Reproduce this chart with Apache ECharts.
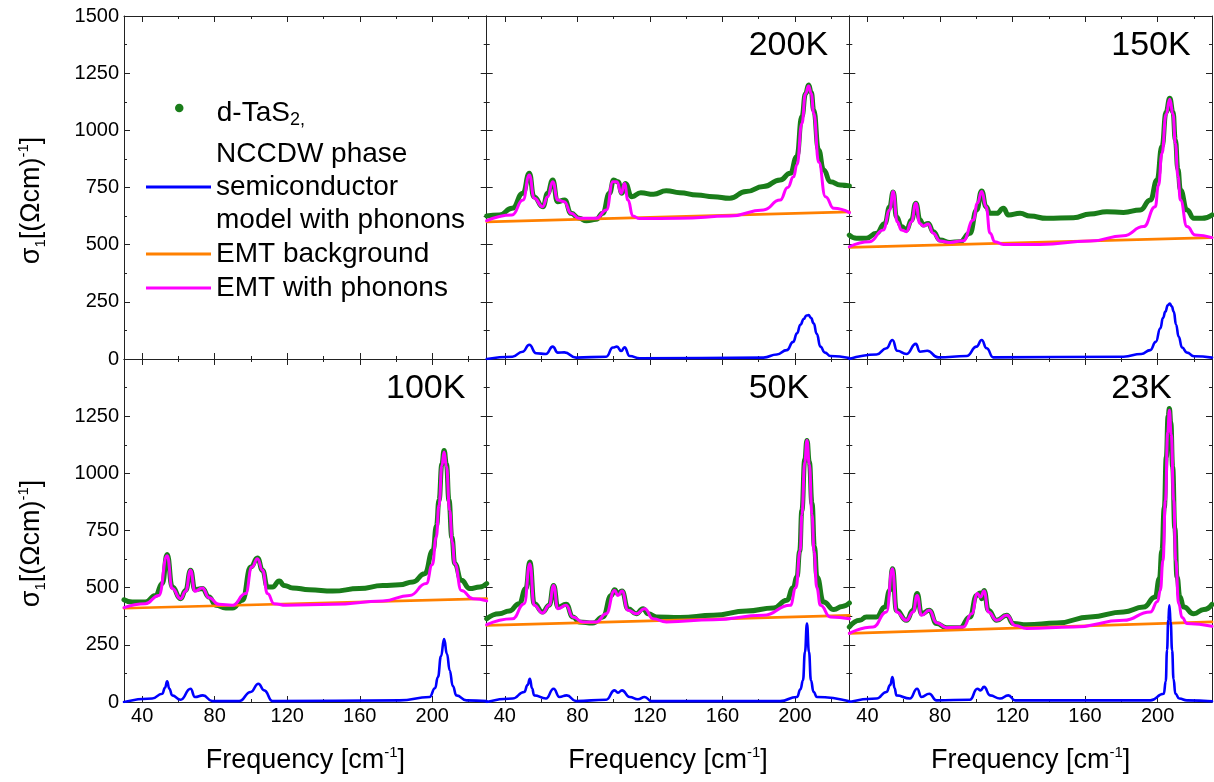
<!DOCTYPE html>
<html><head><meta charset="utf-8">
<script src="https://cdn.jsdelivr.net/npm/echarts@6/dist/echarts.min.js"></script>
<style>html,body{margin:0;padding:0;background:#fff}#c{width:1214px;height:782px}</style>
</head><body><div id="c"></div>
<script>
// ---------- tick values / labels ----------
const xMajorTicks = [40, 80, 120, 160, 200];
const xMinorTicks = [60, 100, 140, 180, 220];
const yMajorTicks = [0, 250, 500, 750, 1000, 1250, 1500];
const yMinorTicks = [125, 375, 625, 875, 1125, 1375];
const yLabelsTop = [0, 250, 500, 750, 1000, 1250, 1500];
const yLabelsBottom = [0, 250, 500, 750, 1000, 1250];
const panelTemps = ['', '200K', '150K', '100K', '50K', '23K'];

// ---------- 200K ----------
const data200K = [[30,625],[37,630],[44,659],[50,725],[53.5,812],[56,710],[61,666],[63.6,725],[66.4,783],[69,688],[73,695],[76.5,637],[81,615],[85,605],[90.4,611],[94,637],[97.7,725],[100,783],[102.4,775],[104.6,725],[106.4,768],[110,710],[115,727],[122,720],[129,736],[136.5,727],[146,717],[155,710],[164,703],[173,732],[182.6,754],[191.8,783],[197.4,812],[201,885],[203.8,1060],[205.8,1160],[207.5,1198],[209,1165],[210.3,1089],[213,914],[215.8,827],[219.5,775],[225,761],[230,757]];
const emtPh200K = [[30,605],[44,630],[50,695],[53.5,805],[56.2,703],[60.8,666],[63.6,710],[66.4,775],[69.2,695],[72.8,688],[76.5,637],[81,615],[90.4,615],[96,652],[99.6,775],[101.8,775],[104.2,725],[106,768],[107.9,695],[110.6,625],[114.3,614],[136.5,615],[164,625],[182.6,652],[191.8,695],[196,750],[199.2,797],[201.1,850],[203.8,1030],[205.8,1160],[207.5,1194],[209,1160],[210.3,1075],[213.1,860],[216.8,710],[221.4,659],[230,640]];
const emtBg200K = [[30,600],[230,643]];
const semi200K = [[30,0],[44.2,10],[49.8,32],[53.5,62],[57.2,25],[62.7,22],[66.4,54],[69.2,28],[72.8,29],[79.3,6],[95.9,10],[99.6,50],[101.8,54],[104.2,35],[106,51],[108.8,13],[114.4,3],[182.6,6],[190,20],[195.5,39],[199,75],[201.1,112],[203,150],[204.8,175],[206.3,190],[207.5,192],[208.8,180],[210.3,156],[212,110],[214,54],[216.5,28],[219.5,13],[230,4]];

// ---------- 150K ----------
const data150K = [[30,542],[34,528],[39.4,528],[45,550],[49.6,593],[52.3,666],[54.2,730],[56,622],[58.8,579],[61.5,564],[64.3,608],[66.7,681],[69,608],[70.8,586],[73.5,593],[76.3,557],[80,520],[85.5,510],[91,513],[96.5,550],[100.2,652],[103,735],[105.4,666],[107.6,637],[111.3,637],[115,659],[117.7,630],[124.2,637],[129.7,625],[138.9,615],[153.6,618],[162.8,634],[172,644],[181.2,641],[190.5,652],[196,695],[199.7,783],[202.4,929],[204.7,1080],[206.7,1140],[208.5,1080],[209.8,958],[211.2,830],[212.6,739],[216.2,652],[220,615],[224.5,615],[230,630]];
const emtPh150K = [[30,491],[41.3,513],[48.7,564],[52.3,652],[54.2,732],[56.4,600],[58.8,564],[61.5,557],[64.3,600],[66.7,681],[68.9,593],[70.8,582],[73.5,590],[76.3,550],[80,516],[85.5,510],[92.9,517],[98.4,608],[100.6,681],[103,732],[105.4,666],[107.6,550],[110.3,513],[115,501],[135.2,501],[162.8,516],[181.2,539],[192.3,579],[198.7,666],[200.5,760],[202.4,899],[204.7,1070],[206.7,1136],[208.5,1070],[209.8,943],[211.2,800],[212.6,695],[216.2,579],[220.8,542],[230,531]];
const emtBg150K = [[30,488],[230,531]];
const semi150K = [[30,0],[45,20],[50.5,47],[53.8,83],[56.4,36],[61.5,22],[66.7,66],[68.9,32],[73,36],[79,7],[94.7,13],[100.2,54],[103,83],[105.7,47],[109.4,7],[181.2,10],[191,22],[196,39],[199,75],[201.5,134],[203,180],[204.3,207],[205.6,235],[206.7,243],[207.8,230],[208.9,207],[210.2,150],[211.6,98],[213.5,50],[216.2,28],[220,12],[230,6]];

// ---------- 100K ----------
const data100K = [[30,447],[34.5,437],[41.8,437],[47.4,466],[51.1,518],[53.8,645],[56.6,503],[61.2,452],[64,488],[66.7,576],[69.1,491],[73.2,496],[76.9,459],[80.6,423],[86.1,411],[89.8,411],[95.3,445],[99.9,590],[103.6,630],[106.4,576],[109.1,503],[111.9,503],[115.6,529],[118.3,510],[123,499],[132.2,491],[145.1,485],[159.8,496],[172.7,509],[181.9,513],[189.3,525],[195.8,561],[200.4,663],[202.3,770],[203.7,882],[205.3,1040],[206.5,1100],[207.8,1040],[209.2,882],[210.8,720],[212.4,605],[216,532],[220.6,496],[226.2,503],[230,518]];
const emtPh100K = [[30,413],[41.8,430],[49.2,466],[53.8,640],[56.6,496],[61.2,452],[64,484],[66.7,576],[69.1,484],[73.2,499],[76.9,456],[82.4,427],[89.8,423],[97.1,474],[100.5,590],[103.6,627],[106.4,576],[109.1,474],[112.8,430],[119.3,423],[145.1,427],[172.7,442],[187.5,466],[196.7,518],[200,600],[202.2,722],[203.7,860],[205.3,1035],[206.5,1093],[207.8,1030],[209.6,838],[211,700],[212.4,605],[216,488],[222.5,452],[230,442]];
const emtBg100K = [[30,410],[230,452]];
const semi100K = [[30,0],[45.5,15],[51.1,36],[52.6,62],[53.8,90],[55,58],[56.6,29],[61.2,10],[66.7,58],[69.1,22],[73.5,29],[78.7,4],[93.5,4],[99.9,44],[104.1,80],[107.3,51],[111.9,4],[181.9,7],[198.5,22],[201.5,60],[203.1,109],[204.8,200],[206.5,275],[208.1,210],[209.6,138],[211.3,70],[213.3,29],[218.8,7],[230,4]];

// ---------- 50K ----------
const data50K = [[30,364],[36.9,386],[42.4,398],[47.9,430],[51.6,496],[53.8,612],[56.2,430],[60.8,394],[64.5,423],[66.9,510],[69.2,415],[73.8,427],[77.5,372],[81.1,350],[88.5,345],[94.1,372],[98.7,466],[100.5,491],[102.4,474],[104.6,485],[107.9,408],[112.5,386],[116.2,408],[119,386],[123.6,372],[136.5,369],[155,379],[173.4,398],[188.2,411],[195.5,445],[199,500],[201.1,547],[202.6,660],[203.8,838],[205.4,1060],[206.6,1144],[207.9,1050],[209.4,867],[210.7,680],[212.1,547],[215.8,437],[221.4,404],[226,418],[230,433]];
const emtPh50K = [[30,338],[44.2,364],[50.7,430],[53.8,605],[56.2,423],[60.8,389],[64.5,423],[66.9,510],[69.2,408],[73.8,423],[77.5,372],[83,350],[90.4,350],[95.9,386],[100.5,488],[102.4,466],[104.6,485],[107.9,401],[112.5,386],[117.1,408],[121.7,364],[129.1,350],[155,360],[182.6,379],[197.4,423],[200.5,500],[202.9,663],[203.8,820],[205.4,1050],[206.6,1144],[207.9,1040],[209.4,820],[210.5,660],[212,500],[214,423],[219.5,372],[230,364]];
const emtBg50K = [[30,335],[230,379]];
const semi50K = [[30,0],[44.2,15],[50.7,44],[52.6,75],[53.8,102],[55,60],[56.2,29],[62.7,15],[66.9,58],[70.1,22],[74.1,29],[79.3,4],[95.9,10],[100.5,51],[102.4,41],[104.6,51],[108.8,22],[113.4,12],[117.1,22],[120.8,4],[191.8,4],[201.1,22],[203,55],[204.4,95],[205.5,220],[206.6,343],[207.7,220],[208.8,95],[210.2,45],[212.1,22],[230,3]];

// ---------- 23K ----------
const data23K = [[30,328],[35.8,357],[39.4,372],[45,372],[49.6,415],[52.3,488],[53.8,583],[56,401],[61.5,357],[65.2,401],[67.4,474],[69.8,386],[74.1,401],[78.1,343],[83.6,325],[91,325],[96.5,372],[100.2,466],[102.1,477],[103,452],[104.3,488],[106.7,401],[111.3,357],[116.8,379],[120.5,343],[127.8,338],[144.4,345],[162.8,372],[181.2,394],[192.3,415],[198.7,459],[201,540],[202.4,663],[203.7,850],[204.8,1071],[205.8,1250],[206.5,1283],[207.3,1220],[208.3,1028],[209.5,760],[210.7,547],[212.3,460],[214.4,415],[219.9,386],[225.5,404],[230,427]];
const emtPh23K = [[30,300],[43.1,328],[50.5,394],[53.8,583],[56,394],[61.5,357],[65.2,394],[67.4,466],[69.8,379],[74.1,401],[78.1,347],[83.6,325],[92.9,328],[97.5,386],[100.6,474],[102.4,459],[104.3,485],[106.7,394],[111.3,357],[116.8,379],[121.4,335],[127.8,321],[153.6,328],[181.2,357],[196,394],[200,440],[201.5,488],[203,620],[204.3,882],[205.6,1180],[206.5,1276],[207.5,1170],[208.9,882],[210,620],[211.6,430],[213.5,370],[216.2,343],[230,331]];
const emtBg23K = [[30,300],[230,350]];
const semi23K = [[30,0],[45,15],[50.5,44],[52.6,75],[53.8,109],[55,60],[56,29],[63.4,15],[67.4,58],[69.8,22],[74.1,36],[78.1,7],[96.5,10],[100.6,58],[102.4,51],[104.3,66],[107.6,29],[113.1,15],[117.7,29],[121.4,7],[196,7],[203.4,36],[204.5,90],[205.2,226],[205.9,360],[206.5,423],[207.2,350],[208,226],[208.8,100],[209.8,36],[212,15],[216.2,7],[230,3]];

const panelData = [
  null,
  [data200K, emtBg200K, emtPh200K, semi200K],
  [data150K, emtBg150K, emtPh150K, semi150K],
  [data100K, emtBg100K, emtPh100K, semi100K],
  [data50K, emtBg50K, emtPh50K, semi50K],
  [data23K, emtBg23K, emtPh23K, semi23K]
];

// ---------- layout ----------
const FONT = 'Liberation Sans, Arial, Helvetica, sans-serif';
const colLeft = [124, 486.7, 849.3];
const colW = 362.7;
const rowTop = [16, 359];
const rowH = 343;
const AX = '#222';
const C_DATA = '#1a7d1a', C_BG = '#ff8000', C_PH = '#ff00ff', C_SEMI = '#0000ff';

const grids = [], xAxes = [], yAxes = [], series = [], titles = [];

const yName = '{a|σ}{s|1}{a|[(Ωcm)}{p|-1}{a|]}';
const xName = '{a|Frequency [cm}{p|-1}{a|]}';
const nameRich = {
  a: {fontSize: 27, lineHeight: 32, fontFamily: FONT, color: '#000'},
  s: {fontSize: 15, lineHeight: 15, verticalAlign: 'bottom', fontFamily: FONT, color: '#000'},
  p: {fontSize: 15, lineHeight: 15, verticalAlign: 'top', fontFamily: FONT, color: '#000'}
};

for (let g = 0; g < 6; g++) {
  const r = Math.floor(g / 3), c = g % 3;
  grids.push({left: colLeft[c], top: rowTop[r], width: colW, height: rowH, containLabel: false});
  const base = {type: 'value', gridIndex: g, min: 30, max: 230, splitLine: {show: false},
                axisLabel: {show: false}, axisPointer: {show: false}};
  const tick = (vals, len) => ({show: true, inside: true, length: len, customValues: vals, lineStyle: {color: AX, width: 1}});
  const lineOn = {show: true, onZero: false, lineStyle: {color: AX, width: 1}};
  const lineOff = {show: false, onZero: false};
  const xMain = Object.assign({}, base, {position: 'bottom', axisLine: lineOn, axisTick: tick(xMajorTicks, 6)});
  if (r === 1) {
    xMain.axisLabel = {show: true, customValues: xMajorTicks, formatter: v => String(v), fontSize: 20, lineHeight: 20, margin: 4, color: '#000', fontFamily: FONT};
    xMain.name = xName; xMain.nameLocation = 'middle'; xMain.nameGap = 43;
    xMain.nameTextStyle = {rich: nameRich};
  }
  xAxes.push(xMain);
  xAxes.push(Object.assign({}, base, {position: 'bottom', axisLine: lineOff, axisTick: tick(xMinorTicks, 3)}));
  xAxes.push(Object.assign({}, base, {position: 'top', axisLine: lineOn, axisTick: tick(xMajorTicks, 6)}));
  xAxes.push(Object.assign({}, base, {position: 'top', axisLine: lineOff, axisTick: tick(xMinorTicks, 3)}));

  const ybase = {type: 'value', gridIndex: g, min: 0, max: 1500, splitLine: {show: false},
                 axisLabel: {show: false}, axisPointer: {show: false}};
  const yMain = Object.assign({}, ybase, {position: 'left', axisLine: lineOn, axisTick: tick(yMajorTicks, 6)});
  if (c === 0) {
    yMain.axisLabel = {show: true, customValues: r === 0 ? yLabelsTop : yLabelsBottom, formatter: v => String(v),
                       fontSize: 20, margin: 5, color: '#000', fontFamily: FONT};
    yMain.name = yName; yMain.nameLocation = 'middle'; yMain.nameRotate = 90; yMain.nameGap = 76;
    yMain.nameTextStyle = {rich: nameRich, padding: [0, 26, 0, 0]};
  }
  yAxes.push(yMain);
  yAxes.push(Object.assign({}, ybase, {position: 'left', axisLine: lineOff, axisTick: tick(yMinorTicks, 3)}));
  yAxes.push(Object.assign({}, ybase, {position: 'right', axisLine: lineOn, axisTick: tick(yMajorTicks, 6)}));
  yAxes.push(Object.assign({}, ybase, {position: 'right', axisLine: lineOff, axisTick: tick(yMinorTicks, 3)}));

  if (g > 0) {
    const [d, bg, ph, semi] = panelData[g];
    const mk = (name, data, color, width, z, sm) => ({
      type: 'line', name, data, xAxisIndex: 4 * g, yAxisIndex: 4 * g,
      symbol: 'none', showSymbol: false, smooth: sm, smoothMonotone: 'x', silent: true, z,
      lineStyle: {color, width, cap: 'round', join: 'round'}, itemStyle: {color}
    });
    series.push(mk('d-TaS2', d, C_DATA, 5, 2, 0.5));
    series.push(mk('EMT background', bg, C_BG, 2.7, 3, false));
    series.push(mk('EMT with phonons', ph, C_PH, 3, 4, 0.5));
    series.push(mk('NCCDW', semi, C_SEMI, 2.6, 5, 0.5));
    titles.push({text: panelTemps[g], left: colLeft[c] + 262, top: rowTop[r] + 13, padding: 0,
                 textStyle: {fontSize: 34, lineHeight: 34, fontWeight: 'normal', color: '#000', fontFamily: FONT}});
  }
}

const legendText = {fontSize: 28, lineHeight: 33, color: '#000', fontFamily: FONT};
const option = {
  animation: false,
  backgroundColor: '#fff',
  textStyle: {fontFamily: FONT},
  title: titles,
  grid: grids,
  xAxis: xAxes,
  yAxis: yAxes,
  legend: [
    {orient: 'vertical', left: 175, top: 86.5, padding: 0, itemWidth: 65, itemHeight: 8.5, itemGap: 0,
     data: [{name: 'd-TaS2', icon: 'circle'}],
     formatter: () => 'd-TaS{s|2,}',
     textStyle: Object.assign({}, legendText, {padding: [10, 0, 0, 0],
       rich: {s: {fontSize: 18, lineHeight: 14, padding: [10, 0, 0, 0], verticalAlign: 'bottom', fontFamily: FONT, color: '#000'}}})},
    {orient: 'vertical', left: 146, top: 137.5, padding: 0, itemWidth: 65, itemHeight: 3, itemGap: 1,
     data: [{name: 'NCCDW', icon: 'rect'}, {name: 'EMT background', icon: 'rect'}, {name: 'EMT with phonons', icon: 'rect'}],
     formatter: n => n === 'NCCDW' ? 'NCCDW phase\nsemiconductor\nmodel with phonons' : n,
     textStyle: legendText}
  ],
  series: series
};

const chart = echarts.init(document.getElementById('c'), null, {renderer: 'canvas'});
chart.setOption(option);
</script>
</body></html>
